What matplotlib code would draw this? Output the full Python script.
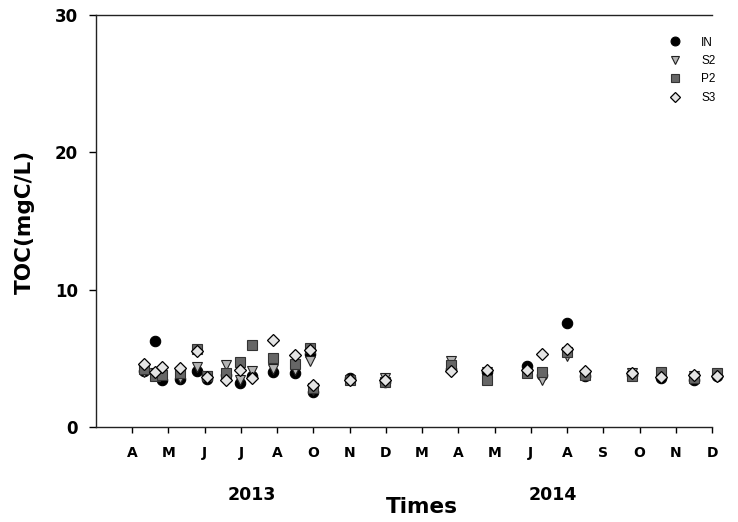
import numpy as np
import matplotlib.pyplot as plt

plt.rcParams['font.family'] = ['DejaVu Sans']

# month tick labels (Apr 2013 .. Dec 2014 as printed on the axis)
months = ['A', 'M', 'J', 'J', 'A', 'O', 'N', 'D',
          'M', 'A', 'M', 'J', 'A', 'S', 'O', 'N', 'D']

# sampling positions on the month axis (tick k = k-th label)
dates = [1.32, 1.62, 1.82, 2.31, 2.79, 3.06, 3.60, 3.98, 4.30, 4.88, 5.50,
         5.90, 6.00, 7.00, 7.98, 9.79, 10.79, 11.89, 12.30, 13.00, 13.50,
         14.80, 15.59, 16.49, 17.13]

toc_in = [4.1, 6.25, 3.4, 3.5, 4.1, 3.5, 3.8, 3.2, 3.7, 4.0, 3.95,
          5.3, 2.55, 3.6, 3.3, 4.2, 4.0, 4.45, 3.8, 7.55, 3.7,
          3.8, 3.6, 3.45, 3.7]
toc_s2 = [4.0, 3.9, 3.8, 3.6, 4.4, 3.7, 4.5, 3.45, 4.1, 4.2, 4.15,
          4.8, 2.7, 3.4, 3.55, 4.8, 4.0, 3.9, 3.45, 5.2, 3.8,
          3.9, 3.8, 3.7, 3.85]
toc_p2 = [4.2, 3.7, 3.8, 3.9, 5.7, 3.7, 3.9, 4.75, 5.95, 5.05, 4.6,
          5.75, 2.85, 3.4, 3.25, 4.5, 3.4, 3.9, 4.0, 5.45, 3.8,
          3.75, 4.0, 3.6, 3.9]
toc_s3 = [4.6, 4.0, 4.4, 4.3, 5.5, 3.65, 3.45, 4.15, 3.55, 6.35, 5.25,
          5.6, 3.05, 3.4, 3.45, 4.05, 4.15, 4.15, 5.35, 5.65, 4.05,
          3.9, 3.65, 3.8, 3.7]

fig = plt.figure(figsize=(7.38, 5.22), dpi=100)
ax = fig.add_axes([96/738, 95/522, 616/738, 412/522])

ax.plot(dates, toc_in, 'o', ms=7.5, mfc='black', mec='black', mew=0.8,
        label='IN', clip_on=False)
ax.plot(dates, toc_s2, 'v', ms=7.5, mfc='#b4b4b4', mec='#222222', mew=0.8,
        label='S2', clip_on=False)
ax.plot(dates, toc_p2, 's', ms=6.5, mfc='#666666', mec='#333333', mew=0.8,
        label='P2', clip_on=False)
ax.plot(dates, toc_s3, 'D', ms=6.3, mfc='#e4e4e4', mec='black', mew=0.9,
        label='S3', clip_on=False)

ax.set_xlim(0, 17)
ax.set_ylim(0, 30)
ax.set_xticks(np.arange(1, 18))
ax.set_xticklabels(months, fontsize=10, fontweight='bold')
ax.set_yticks([0, 10, 20, 30])
ax.set_yticklabels(['0', '10', '20', '30'], fontsize=12, fontweight='bold')
ax.tick_params(axis='x', direction='out', length=4, width=1, pad=10)
ax.tick_params(axis='y', direction='out', length=5, width=1, pad=8)
ax.spines['right'].set_visible(False)
for side in ['left', 'bottom', 'top']:
    ax.spines[side].set_linewidth(1.0)
    ax.spines[side].set_color('#222222')

leg = ax.legend(loc='upper left', bbox_to_anchor=(669.5/738, 1 - 36.5/522),
                bbox_transform=fig.transFigure, frameon=False,
                prop={'family': 'Liberation Sans', 'size': 8.5},
                markerscale=0.85,
                handlelength=1.0, handletextpad=1.7, labelspacing=0.55,
                borderpad=0, borderaxespad=0)

fig.text(251.7/738, 1 - 500/522, '2013', ha='center', va='baseline',
         fontsize=12.5, fontweight='bold')
fig.text(553/738, 1 - 500/522, '2014', ha='center', va='baseline',
         fontsize=12.5, fontweight='bold')
fig.text(421.7/738, 1 - 513.3/522, 'Times', ha='center', va='baseline',
         fontsize=15.5, fontweight='bold')
fig.text(31/738, 1 - 222/522, 'TOC(mgC/L)', rotation=90, rotation_mode='anchor',
         ha='center', va='baseline', fontsize=15.5, fontweight='bold')

fig.savefig('out.png', dpi=100)
